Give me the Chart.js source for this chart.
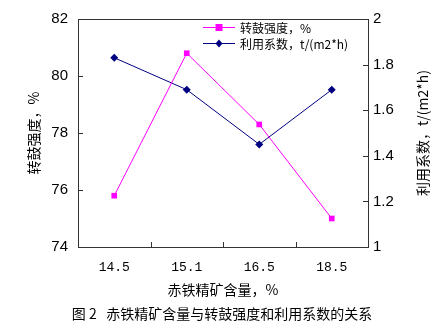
<!DOCTYPE html>
<html>
<head>
<meta charset="utf-8">
<script src="https://cdn.jsdelivr.net/npm/chart.js@4"></script>
<style>
  html, body { margin: 0; padding: 0; background: #fff; }
</style>
</head>
<body>
<canvas id="chart" width="438" height="326"></canvas>
<script>
// Data
const categories = ['14.5', '15.1', '16.5', '18.5'];
const drumStrength = [75.8, 80.8, 78.3, 75.0];   // 转鼓强度，%
const utilization = [1.83, 1.69, 1.45, 1.69];     // 利用系数，t/(m2*h)
const leftRange = [74, 82];
const rightRange = [1, 2];

const cjk = '"Noto Sans CJK SC", sans-serif';

// inside tick marks, plot frame, legend, right title, caption
const decorations = {
    id: 'decorations',
    beforeDatasetsDraw(chart) {
        const { ctx, chartArea: a, scales } = chart;
        ctx.save();
        ctx.strokeStyle = '#333';
        ctx.lineWidth = 1;
        ctx.strokeRect(Math.round(a.left) + 0.5, Math.round(a.top) + 0.5,
            Math.round(a.right - a.left), Math.round(a.bottom - a.top));
        ctx.beginPath();
        scales.y.ticks.forEach(t => {
            const y = Math.round(scales.y.getPixelForValue(t.value)) + 0.5;
            ctx.moveTo(a.left, y); ctx.lineTo(a.left + 5, y);
        });
        scales.y1.ticks.forEach(t => {
            const y = Math.round(scales.y1.getPixelForValue(t.value)) + 0.5;
            ctx.moveTo(a.right - 5, y); ctx.lineTo(a.right, y);
        });
        for (let i = 0; i < categories.length - 1; i++) {
            const x = Math.round((scales.x.getPixelForValue(i) + scales.x.getPixelForValue(i + 1)) / 2) + 0.5;
            ctx.moveTo(x, a.bottom); ctx.lineTo(x, a.bottom - 5);
        }
        ctx.stroke();
        ctx.restore();
    },
    afterDraw(chart) {
        const { ctx, chartArea: a } = chart;
        ctx.save();
        // legend
        chart.data.datasets.forEach((ds, i) => {
            const y = a.top + 8 + i * 16;
            const x0 = a.left + 125, x1 = a.left + 157;
            ctx.strokeStyle = ds.borderColor;
            ctx.fillStyle = ds.borderColor;
            ctx.lineWidth = 1;
            ctx.beginPath();
            ctx.moveTo(x0, y + 0.5); ctx.lineTo(x1, y + 0.5);
            ctx.stroke();
            const cx = (x0 + x1) / 2;
            ctx.beginPath();
            if (ds.pointStyle === 'rect') {
                ctx.rect(cx - 3.5, y - 3, 7, 7);
            } else {
                ctx.moveTo(cx, y - 3.5); ctx.lineTo(cx + 3.5, y + 0.5);
                ctx.lineTo(cx, y + 4.5); ctx.lineTo(cx - 3.5, y + 0.5);
                ctx.closePath();
            }
            ctx.fill();
            ctx.fillStyle = '#000';
            ctx.font = '12px ' + cjk;
            ctx.textBaseline = 'middle';
            ctx.textAlign = 'left';
            ctx.fillText(ds.label, x1 + 5, y + 1);
        });
        // right axis title, reads bottom to top
        ctx.fillStyle = '#000';
        ctx.font = '14px ' + cjk;
        ctx.textAlign = 'center';
        ctx.textBaseline = 'middle';
        ctx.translate(423, (a.top + a.bottom) / 2);
        ctx.rotate(-Math.PI / 2);
        ctx.fillText('利用系数，t/(m2*h)', 0, 0);
        ctx.restore();
        // caption
        ctx.save();
        ctx.fillStyle = '#000';
        ctx.font = '14px ' + cjk;
        ctx.textAlign = 'center';
        ctx.textBaseline = 'middle';
        ctx.fillText('图 2   赤铁精矿含量与转鼓强度和利用系数的关系', 222, 314);
        ctx.restore();
    }
};

function initChart() {
    const ctx = document.getElementById('chart').getContext('2d');
    new Chart(ctx, {
        type: 'line',
        data: {
            labels: categories,
            datasets: [{
                label: '转鼓强度，%',
                data: drumStrength,
                yAxisID: 'y',
                borderColor: '#FF00FF',
                backgroundColor: '#FF00FF',
                borderWidth: 1,
                pointStyle: 'rect',
                pointRadius: 4,
                pointBorderWidth: 0,
                tension: 0
            }, {
                label: '利用系数，t/(m2*h)',
                data: utilization,
                yAxisID: 'y1',
                borderColor: '#000080',
                backgroundColor: '#000080',
                borderWidth: 1,
                pointStyle: 'rectRot',
                pointRadius: 4,
                pointBorderWidth: 0,
                tension: 0
            }]
        },
        options: {
            responsive: false,
            animation: false,
            layout: { padding: { top: 10, left: 0, right: 0, bottom: 0 } },
            plugins: { legend: { display: false }, tooltip: { enabled: false } },
            scales: {
                x: {
                    type: 'category',
                    offset: true,
                    grid: { display: false, drawTicks: false },
                    border: { display: false },
                    ticks: { font: { family: '"Liberation Mono"', size: 13 }, color: '#000', padding: 13, maxRotation: 0 },
                    title: {
                        display: true, text: '赤铁精矿含量，%', color: '#000',
                        font: { family: cjk, size: 14 }, padding: { top: 0, bottom: 28 }
                    },
                    afterFit(s) { s.height = 79; }
                },
                y: {
                    position: 'left',
                    min: leftRange[0], max: leftRange[1],
                    grid: { display: false, drawTicks: false },
                    border: { display: false },
                    ticks: { stepSize: 2, font: { family: '"Liberation Sans"', size: 15 }, color: '#000', padding: 10 },
                    title: {
                        display: true, text: '转鼓强度，%', color: '#000',
                        font: { family: cjk, size: 14 }, padding: { top: 25, bottom: 0 }
                    },
                    afterFit(s) { s.width = 78; }
                },
                y1: {
                    position: 'right',
                    min: rightRange[0], max: rightRange[1],
                    grid: { display: false, drawTicks: false },
                    border: { display: false },
                    ticks: {
                        stepSize: 0.2, font: { family: '"Liberation Sans"', size: 15 }, color: '#000', padding: 5,
                        callback: v => String(Math.round(v * 10) / 10)
                    },
                    afterFit(s) { s.width = 70; }
                }
            }
        },
        plugins: [decorations]
    });
}

initChart();
</script>
</body>
</html>
